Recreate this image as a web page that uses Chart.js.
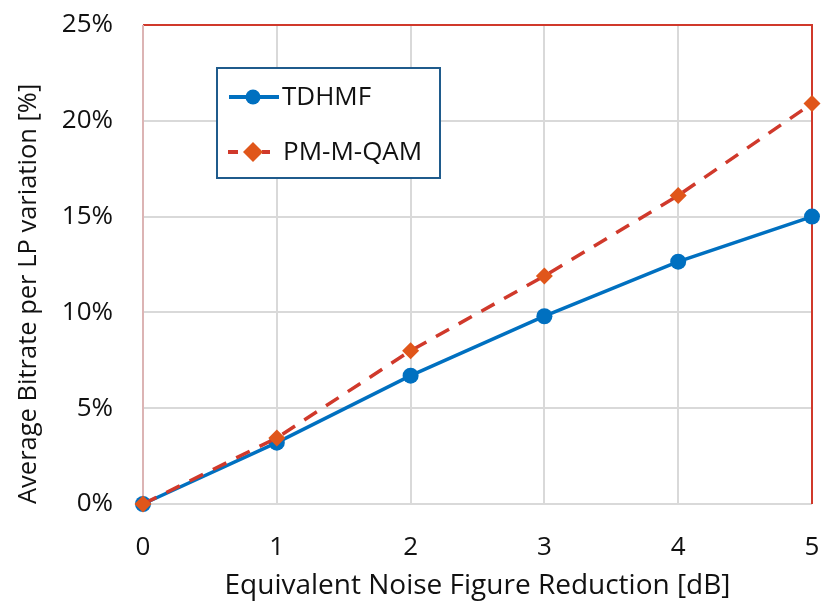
<!DOCTYPE html>
<html><head><meta charset="utf-8">
<script src="https://cdn.jsdelivr.net/npm/chart.js@4"></script>
<style>html,body{margin:0;padding:0;background:#fff}#wrap{width:822px;height:607px}</style>
</head><body><div id="wrap"><canvas id="c" width="822" height="607"></canvas></div>
<script>
const xValues = [0, 1, 2, 3, 4, 5];
const tdhmf = [0, 3.2, 6.7, 9.8, 12.65, 15.0];
const pmmqam = [0, 3.45, 8.0, 11.9, 16.1, 20.9];
const seriesNames = ['TDHMF', 'PM-M-QAM'];
const xTitle = 'Equivalent Noise Figure Reduction [dB]';
const yTitle = 'Average Bitrate per LP variation [%]';

const FONT = "'Open Sans', 'Noto Sans', sans-serif";
const blue = '#0070c0', red = '#d0392b', orange = '#e0561a';
const clear = 'rgba(0,0,0,0)';

const framePlugin = {
  id: 'frame',
  beforeDatasetsDraw(chart) {
    const {ctx, chartArea: a} = chart;
    ctx.save();
    ctx.lineWidth = 2;
    ctx.strokeStyle = red;
    ctx.beginPath();
    ctx.moveTo(a.left, a.top); ctx.lineTo(a.right, a.top); ctx.lineTo(a.right, a.bottom);
    ctx.stroke();
    ctx.strokeStyle = '#dcb4b4';
    ctx.beginPath(); ctx.moveTo(a.left, a.top); ctx.lineTo(a.left, a.bottom); ctx.stroke();
    ctx.restore();
  },
  afterDraw(chart) {
    const {ctx} = chart;
    ctx.save();
    const bx = 217, by = 68, bw = 223, bh = 110;
    ctx.fillStyle = '#fff';
    ctx.fillRect(bx, by, bw, bh);
    ctx.strokeStyle = '#1f5b8c'; ctx.lineWidth = 2;
    ctx.strokeRect(bx, by, bw, bh);
    let y = by + 29;
    ctx.strokeStyle = blue; ctx.lineWidth = 4; ctx.setLineDash([]);
    ctx.beginPath(); ctx.moveTo(229, y); ctx.lineTo(279, y); ctx.stroke();
    ctx.fillStyle = blue; ctx.beginPath(); ctx.arc(253, y, 7.5, 0, Math.PI*2); ctx.fill();
    ctx.fillStyle = '#111'; ctx.font = '26px ' + FONT; ctx.textBaseline = 'middle';
    ctx.fillText(seriesNames[0], 282, y + 1);
    y = by + 84;
    ctx.strokeStyle = red; ctx.lineWidth = 4;
    ctx.beginPath(); ctx.moveTo(228, y); ctx.lineTo(238, y); ctx.moveTo(262, y); ctx.lineTo(270, y); ctx.stroke();
    ctx.fillStyle = orange; ctx.beginPath();
    ctx.moveTo(253, y-10); ctx.lineTo(263, y); ctx.lineTo(253, y+10); ctx.lineTo(243, y); ctx.closePath(); ctx.fill();
    ctx.fillStyle = '#111';
    ctx.fillText(seriesNames[1], 283, y + 1);
    ctx.restore();
  }
};

new Chart(document.getElementById('c'), {
  type: 'line',
  data: {
    datasets: [
      { label: seriesNames[0], data: xValues.map((x,i)=>({x, y: tdhmf[i]})),
        borderColor: blue, backgroundColor: blue, borderWidth: 3.5, clip: false,
        pointStyle: 'circle', pointRadius: 8, pointBackgroundColor: blue, pointBorderWidth: 0, order: 2 },
      { label: seriesNames[1], data: xValues.map((x,i)=>({x, y: pmmqam[i]})),
        borderColor: red, backgroundColor: orange, borderWidth: 3.5, borderDash: [15, 11], clip: false,
        pointStyle: 'rectRot', pointRadius: 8.5, pointBackgroundColor: orange, pointBorderWidth: 0, order: 1 }
    ]
  },
  options: {
    responsive: false, animation: false,
    layout: { padding: { top: 25, right: 10, left: 0, bottom: 0 } },
    plugins: { legend: { display: false }, tooltip: { enabled: false } },
    scales: {
      x: { type: 'linear', min: 0, max: 5,
        afterFit: s => { s.height = 103; },
        ticks: { stepSize: 1, color: '#111', font: { family: FONT, size: 26 }, padding: 0, maxRotation: 0 },
        grid: { color: '#d9d9d9', lineWidth: 2, drawTicks: true, tickLength: 28, tickColor: clear },
        border: { display: false },
        title: { display: true, text: xTitle, color: '#111', font: { family: FONT, size: 28 }, padding: { top: 0, bottom: 4 } } },
      y: { min: 0, max: 25,
        afterFit: s => { s.width = 143; },
        ticks: { stepSize: 5, color: '#111', font: { family: FONT, size: 26 }, padding: 0, callback: v => v + '%' },
        grid: { color: '#d9d9d9', lineWidth: 2, drawTicks: true, tickLength: 30, tickColor: clear },
        border: { display: false },
        title: { display: true, text: yTitle, align: 'start', color: '#111', font: { family: FONT, size: 25.5 }, padding: { top: 13, bottom: 0 } } }
    }
  },
  plugins: [framePlugin]
});
</script></body></html>
